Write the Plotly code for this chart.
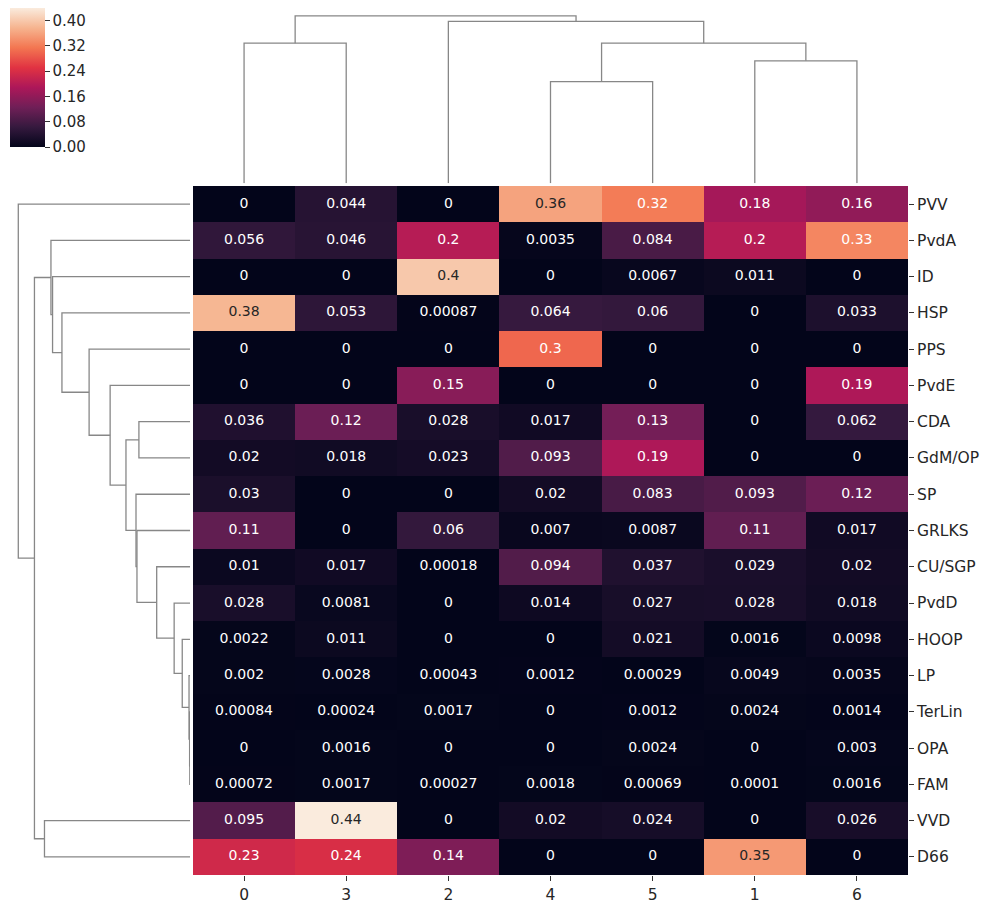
import plotly.graph_objects as go

# ---------------- data ----------------
row_labels = ["PVV", "PvdA", "ID", "HSP", "PPS", "PvdE", "CDA", "GdM/OP", "SP", "GRLKS",
              "CU/SGP", "PvdD", "HOOP", "LP", "TerLin", "OPA", "FAM", "VVD", "D66"]
col_labels = ["0", "3", "2", "4", "5", "1", "6"]

col_0 = [0, 0.056, 0, 0.38, 0, 0, 0.036, 0.02, 0.03, 0.11, 0.01, 0.028, 0.0022, 0.002, 0.00084, 0, 0.00072, 0.095, 0.23]
col_3 = [0.044, 0.046, 0, 0.053, 0, 0, 0.12, 0.018, 0, 0, 0.017, 0.0081, 0.011, 0.0028, 0.00024, 0.0016, 0.0017, 0.44, 0.24]
col_2 = [0, 0.2, 0.4, 0.00087, 0, 0.15, 0.028, 0.023, 0, 0.06, 0.00018, 0, 0, 0.00043, 0.0017, 0, 0.00027, 0, 0.14]
col_4 = [0.36, 0.0035, 0, 0.064, 0.3, 0, 0.017, 0.093, 0.02, 0.007, 0.094, 0.014, 0, 0.0012, 0, 0, 0.0018, 0.02, 0]
col_5 = [0.32, 0.084, 0.0067, 0.06, 0, 0, 0.13, 0.19, 0.083, 0.0087, 0.037, 0.027, 0.021, 0.00029, 0.0012, 0.0024, 0.00069, 0.024, 0]
col_1 = [0.18, 0.2, 0.011, 0, 0, 0, 0, 0, 0.093, 0.11, 0.029, 0.028, 0.0016, 0.0049, 0.0024, 0, 0.0001, 0, 0.35]
col_6 = [0.16, 0.33, 0, 0.033, 0, 0.19, 0.062, 0, 0.12, 0.017, 0.02, 0.018, 0.0098, 0.0035, 0.0014, 0.003, 0.0016, 0.026, 0]

# column linkage (leaf ids = display positions 0..6; new clusters 7,8,...)
col_links = [
    (0, 1, 0.500),   # 7
    (3, 4, 0.363),   # 8
    (5, 6, 0.437),   # 9
    (8, 9, 0.500),   # 10
    (2, 10, 0.578),  # 11
    (7, 11, 0.597),  # 12
]
# row linkage (leaf ids = display positions 0..18; new clusters 19,...)
row_links = [
    (15, 16, 0.0006),  # 19 OPA/FAM
    (14, 19, 0.0012),  # 20
    (13, 20, 0.003),   # 21
    (12, 21, 0.024),   # 22
    (11, 22, 0.049),   # 23
    (10, 23, 0.103),   # 24
    (9, 24, 0.164),    # 25
    (8, 25, 0.167),    # 26
    (6, 7, 0.158),     # 27
    (27, 26, 0.198),   # 28
    (5, 28, 0.247),    # 29
    (4, 29, 0.312),    # 30
    (3, 30, 0.396),    # 31
    (2, 31, 0.425),    # 32
    (1, 32, 0.430),    # 33
    (17, 18, 0.450),   # 34
    (33, 34, 0.481),   # 35
    (0, 35, 0.531),    # 36
]

columns = [col_0, col_3, col_2, col_4, col_5, col_1, col_6]
z = [[columns[j][i] for j in range(len(col_labels))] for i in range(len(row_labels))]
zmax = max(max(c) for c in columns)

rocket = [
    [0.0, "#03051a"], [1 / 7, "#35193e"], [2 / 7, "#701f57"], [3 / 7, "#ad1759"],
    [4 / 7, "#e13342"], [5 / 7, "#f37651"], [6 / 7, "#f6b48f"], [1.0, "#faebdd"],
]


def hex2rgb(h):
    return [int(h[i:i + 2], 16) / 255 for i in (1, 3, 5)]


def cmap(t):
    for k in range(len(rocket) - 1):
        a, ca = rocket[k]
        b, cb = rocket[k + 1]
        if t <= b:
            f = (t - a) / (b - a) if b > a else 0
            A, B = hex2rgb(ca), hex2rgb(cb)
            return [A[m] + f * (B[m] - A[m]) for m in range(3)]
    return hex2rgb(rocket[-1][1])


def lum(rgb):
    lin = [c / 12.92 if c <= 0.03928 else ((c + 0.055) / 1.055) ** 2.4 for c in rgb]
    return 0.2126 * lin[0] + 0.7152 * lin[1] + 0.0722 * lin[2]


W, H = 987, 904
FONT = "DejaVu Sans"
hm_x0, hm_x1 = 193, 908
hm_y0, hm_y1 = 186, 875
LINE = dict(color="#878787", width=1.3)
TICKFONT = dict(family=FONT, size=15.5, color="#262626")

fig = go.Figure()

fig.add_trace(go.Heatmap(
    z=z, x=list(range(len(col_labels))), y=list(range(len(row_labels))),
    colorscale=rocket, zmin=0, zmax=zmax, xaxis="x", yaxis="y",
    hoverinfo="skip",
    colorbar=dict(x=10 / W, xanchor="left", y=1 - 8 / H, yanchor="top",
                  len=139, lenmode="pixels", thickness=35, thicknessmode="pixels",
                  xpad=0, ypad=0, outlinewidth=0,
                  tickvals=[0, 0.08, 0.16, 0.24, 0.32, 0.40],
                  ticktext=["0.00", "0.08", "0.16", "0.24", "0.32", "0.40"],
                  ticks="outside", ticklen=5, tickwidth=1, tickcolor="#333333",
                  tickfont=dict(family=FONT, size=15, color="#262626")),
))

# annotations
dx, dy, dt, wx, wy, wt = [], [], [], [], [], []
for i in range(len(row_labels)):
    for j in range(len(col_labels)):
        v = z[i][j]
        t = format(v, ".2g")
        if lum(cmap(v / zmax)) > 0.408:
            dx.append(j); dy.append(i); dt.append(t)
        else:
            wx.append(j); wy.append(i); wt.append(t)
fig.add_trace(go.Scatter(x=wx, y=wy, text=wt, mode="text", xaxis="x", yaxis="y",
                         textfont=dict(family=FONT, size=14, color="#ffffff"),
                         hoverinfo="skip", showlegend=False))
fig.add_trace(go.Scatter(x=dx, y=dy, text=dt, mode="text", xaxis="x", yaxis="y",
                         textfont=dict(family=FONT, size=14, color="#262626"),
                         hoverinfo="skip", showlegend=False))


def dendro_segments(links, n):
    pos = {k: float(k) for k in range(n)}
    hgt = {k: 0.0 for k in range(n)}
    px, py = [], []
    for idx, (a, b, h) in enumerate(links):
        node = n + idx
        px += [pos[a], pos[a], pos[b], pos[b], None]
        py += [hgt[a], h, h, hgt[b], None]
        pos[node] = (pos[a] + pos[b]) / 2
        hgt[node] = h
    return px, py


cx, cy = dendro_segments(col_links, len(col_labels))
fig.add_trace(go.Scatter(x=cx, y=cy, mode="lines", line=LINE, xaxis="x2", yaxis="y2",
                         hoverinfo="skip", showlegend=False))
rx, ry = dendro_segments(row_links, len(row_labels))
fig.add_trace(go.Scatter(x=ry, y=rx, mode="lines", line=LINE, xaxis="x3", yaxis="y3",
                         hoverinfo="skip", showlegend=False))

col_root = max(l[2] for l in col_links)
row_root = max(l[2] for l in row_links)

hidden = dict(showgrid=False, zeroline=False, showticklabels=False, ticks="", showline=False)

fig.update_layout(
    width=W, height=H, margin=dict(l=0, r=0, t=0, b=0),
    paper_bgcolor="white", plot_bgcolor="white", showlegend=False,
    font=dict(family=FONT, size=14, color="#262626"),
    xaxis=dict(domain=[hm_x0 / W, hm_x1 / W], range=[-0.5, len(col_labels) - 0.5],
               tickvals=list(range(len(col_labels))), ticktext=col_labels,
               ticks="outside", ticklen=5, tickcolor="#333333", showgrid=False, zeroline=False,
               showline=False, anchor="y", tickfont=TICKFONT),
    yaxis=dict(domain=[1 - hm_y1 / H, 1 - hm_y0 / H], range=[len(row_labels) - 0.5, -0.5],
               tickvals=list(range(len(row_labels))), ticktext=row_labels, side="right",
               ticks="outside", ticklen=5, tickcolor="#333333", showgrid=False, zeroline=False,
               showline=False, anchor="x", tickfont=TICKFONT),
    xaxis2=dict(domain=[hm_x0 / W, hm_x1 / W], range=[-0.5, len(col_labels) - 0.5],
                anchor="y2", **hidden),
    yaxis2=dict(domain=[1 - 183.3 / H, 1 - 7.6 / H], range=[0, col_root * 1.05],
                anchor="x2", **hidden),
    xaxis3=dict(domain=[9.7 / W, 190 / W], range=[row_root * 1.05, 0], anchor="y3", **hidden),
    yaxis3=dict(domain=[1 - hm_y1 / H, 1 - hm_y0 / H], range=[len(row_labels) - 0.5, -0.5],
                anchor="x3", **hidden),
)

fig.write_html("out.html", config={"displayModeBar": False},
               post_script="document.body.style.margin='0px';document.body.style.padding='0px';")
